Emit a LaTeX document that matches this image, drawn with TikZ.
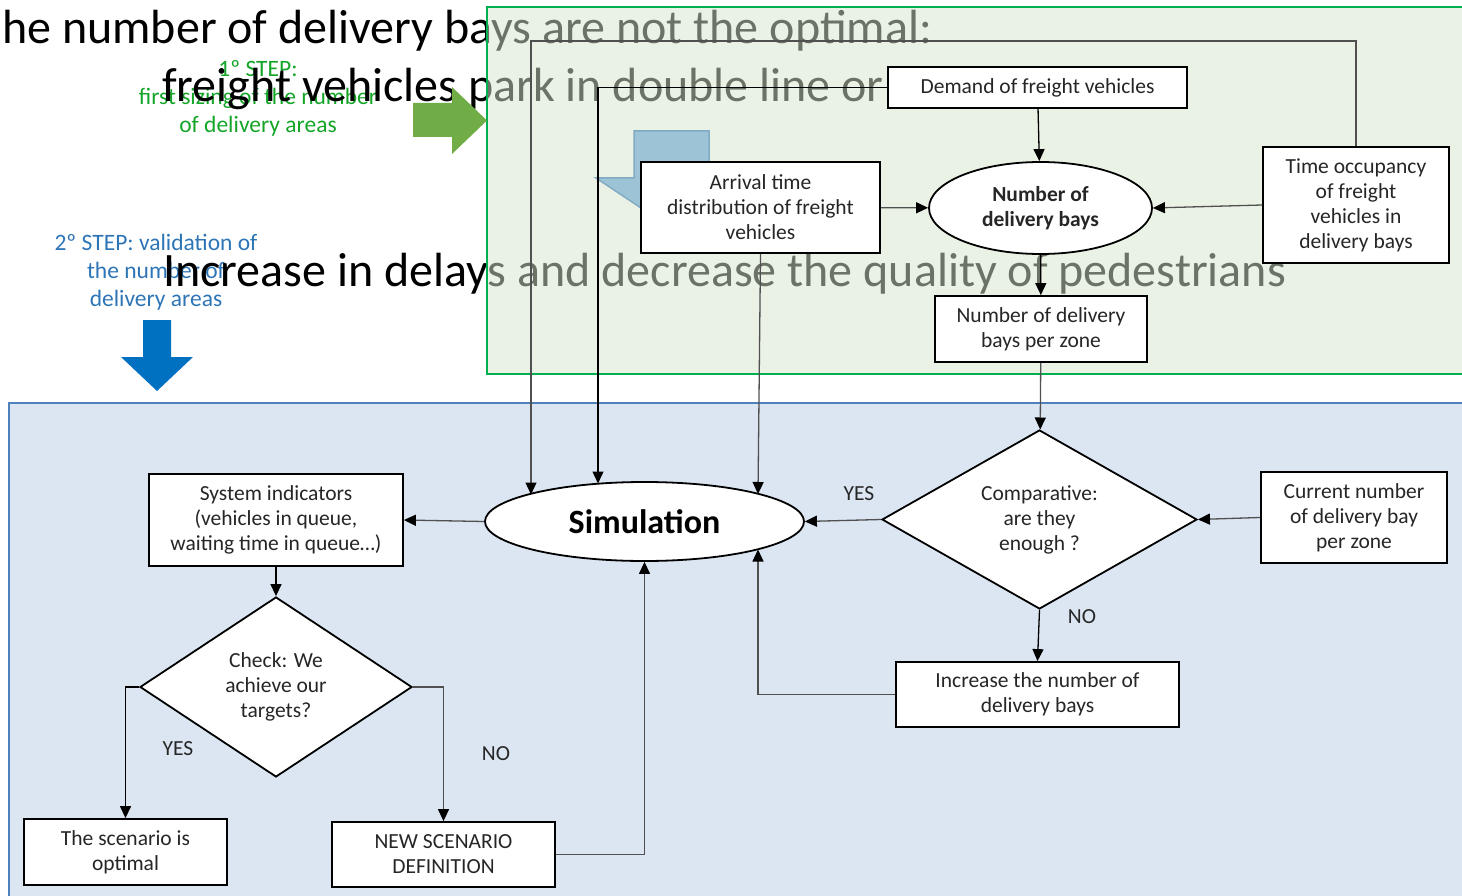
\documentclass[tikz,border=0pt]{standalone}
\usepackage{fontspec}
\setmainfont{Carlito}
\usetikzlibrary{shapes.geometric,arrows.meta}

\definecolor{panelgreen}{RGB}{214,228,204}
\definecolor{greenedge}{RGB}{0,176,80}
\definecolor{panelblue}{RGB}{220,230,242}
\definecolor{blueedge}{RGB}{79,129,189}
\definecolor{arrowgreen}{RGB}{112,173,71}
\definecolor{arrowblue}{RGB}{0,112,192}
\definecolor{steptxtgreen}{RGB}{20,165,40}
\definecolor{steptxtblue}{RGB}{46,117,182}
\definecolor{calloutfill}{RGB}{157,195,214}
\definecolor{calloutedge}{RGB}{130,170,195}
\definecolor{linkgray}{RGB}{80,80,80}
\definecolor{boxtext}{RGB}{38,38,38}

\newcommand\boxfont{\fontsize{21.5}{25}\selectfont}
\newcommand\bigfont{\fontsize{48}{58}\selectfont}
\newcommand\stepfont{\fontsize{23.5}{28}\selectfont}

\tikzset{
  x=1pt, y=-1pt,
  box/.style={draw=black, line width=1.8pt, fill=white, inner sep=0pt,
    align=center, text=boxtext, font=\boxfont},
  ellbox/.style={box, ellipse},
  decision/.style={box, diamond},
  conn/.style={draw=linkgray, line width=1.3pt,
    -{Triangle[length=12pt,width=11pt,color=black]}},
  darkconn/.style={conn, draw=black},
  lbl/.style={text=boxtext, font=\boxfont, inner sep=0pt},
  bigline/.style={anchor=base west, inner sep=0pt, font=\bigfont, text=black},
  steptext/.style={align=center, inner sep=0pt, font=\stepfont}
}

\begin{document}
\begin{tikzpicture}
\clip (0,0) rectangle (1462,896);

% step captions and headline text, partly covered by the green panel
\node[steptext, text=steptxtgreen] (step1) at (258,98) {1º STEP:\\first sizing of the number\\of delivery areas};
\node[steptext, text=steptxtblue] (step2) at (156,272) {2º STEP: validation of\\the number of\\delivery areas};
\node[bigline] (head1) at (2,44) {he number of delivery bays are not the optimal:};
\node[bigline] (head2) at (162,102) {freight vehicles park in double line or};
\node[bigline] (head3) at (163,287) {Increase in delays and decrease the quality of pedestrians};

% panels
\draw[greenedge, line width=2pt, fill=panelgreen, fill opacity=0.5] (487,7) rectangle (1475,374);
\draw[blueedge, line width=2pt, fill=panelblue] (9,403) rectangle (1475,905);

% block arrows
\fill[arrowgreen] (413,103) -- (452,103) -- (452,87) -- (487,120.5) -- (452,154)
  -- (452,137) -- (413,137) -- cycle;
\fill[arrowblue] (143,320) -- (171,320) -- (171,357) -- (193,357) -- (157,391)
  -- (121,357) -- (143,357) -- cycle;
\draw[calloutedge, line width=1.5pt, fill=calloutfill] (634,131) -- (709,131) -- (709,178)
  -- (746,178) -- (671,228) -- (596,178) -- (634,178) -- cycle;

% nodes
\node[box, minimum width=299pt, minimum height=41pt] (demand) at (1037.5,87.5) {Demand of freight vehicles};
\node[ellbox, minimum width=223pt, minimum height=92pt] (nbays) at (1040.5,208)
  {\textbf{Number of}\\\textbf{delivery bays}};
\node[box, minimum width=239pt, minimum height=91pt] (arrival) at (760.5,207.5)
  {Arrival time\\distribution of freight\\vehicles};
\node[box, minimum width=186pt, minimum height=116pt] (occupancy) at (1356,205)
  {Time occupancy\\of freight\\vehicles in\\delivery bays};
\node[box, minimum width=212pt, minimum height=66pt] (perzone) at (1041,329)
  {Number of delivery\\bays per zone};
\node[decision, aspect=1.76, minimum width=315pt, minimum height=179pt] (compare) at (1039.5,519.5)
  {Comparative:\\are they\\enough ?};
\node[box, minimum width=186pt, minimum height=91pt] (current) at (1354,517.5)
  {Current number\\of delivery bay\\per zone};
\node[ellbox, minimum width=319pt, minimum height=79pt, font=\fontsize{34}{38}\selectfont\bfseries, text=black] (sim) at (644.5,521.5)
  {Simulation};
\node[box, minimum width=254pt, minimum height=92pt] (sysind) at (276,520)
  {System indicators\\(vehicles in queue,\\waiting time in queue…)};
\node[decision, aspect=1.5, minimum width=272pt, minimum height=180pt] (check) at (276,687)
  {Check: We\\achieve our\\targets?};
\node[box, minimum width=203pt, minimum height=66pt] (optimal) at (125.5,852)
  {The scenario is\\optimal};
\node[box, minimum width=223pt, minimum height=65pt] (newsc) at (443.5,854.5)
  {NEW SCENARIO\\DEFINITION};
\node[box, minimum width=283pt, minimum height=65pt] (increase) at (1037.5,694.5)
  {Increase the number of\\delivery bays};

% entry points on the border of the simulation ellipse
\coordinate (simTopA) at (531,494.5);
\coordinate (simTopB) at (598,483.5);
\coordinate (simTopC) at (758,494);
\coordinate (simBotC) at (758,549.5);

% connectors
\draw[darkconn] (demand) -- (nbays);
\draw[conn] (arrival) -- (nbays);
\draw[conn] (occupancy.west) -- (nbays.east);
\draw[darkconn] (nbays) -- (perzone);
\draw[conn] (perzone) -- (compare);
\draw[conn] (current.west) -- (compare.east);
\draw[conn] (compare.west) -- (sim.east);
\draw[darkconn] (compare.south) -- (increase.north);
\draw[conn] (increase.west) -| (simBotC);
\draw[conn] (occupancy.north) -- ++(0,-105) -| (simTopA);
\draw[darkconn] (demand.west) -| (simTopB);
\draw[conn] (arrival.south) -- (simTopC);
\draw[conn] (sim.west) -- (sysind.east);
\draw[darkconn] (sysind.south) -- (check.north);
\draw[darkconn] (check.west) -| (optimal.north);
\draw[conn] (check.east) -| (newsc.north);
\draw[conn] (newsc.east) -| (sim.south);

% branch labels
\node[lbl] (yes1) at (859,494) {YES};
\node[lbl] (no1) at (1082,617) {NO};
\node[lbl] (yes2) at (178,749) {YES};
\node[lbl] (no2) at (496,754) {NO};
\end{tikzpicture}
\end{document}
